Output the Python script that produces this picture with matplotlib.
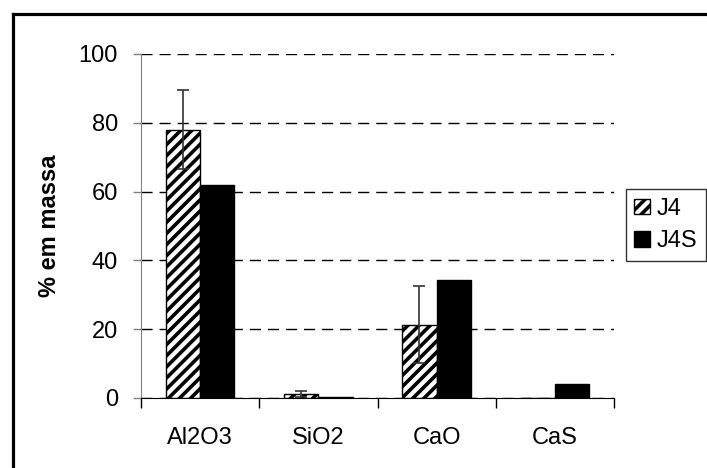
import matplotlib

matplotlib.use("Agg")
import matplotlib.pyplot as plt
import numpy as np
from matplotlib.lines import Line2D

categories = ["Al2O3", "SiO2", "CaO", "CaS"]
j4_values = [78.0, 1.2, 21.3, 0.0]
j4_errors = [11.4, 0.9, 11.2, 0.0]
j4s_values = [62.0, 0.3, 34.4, 4.2]
yticks = [0, 20, 40, 60, 80, 100]

plt.rcParams["font.family"] = ["Liberation Sans", "DejaVu Sans"]
plt.rcParams["hatch.linewidth"] = 2.6

fig = plt.figure(figsize=(7.07, 4.68), dpi=100)
ax = fig.add_axes([141 / 707, 1 - 398 / 468, 473 / 707, 344 / 468])

x = np.arange(len(categories))
w = 0.29
ax.bar(x - w / 2, j4_values, width=w, color="white", edgecolor="black",
       hatch="///", linewidth=1.0, label="J4", zorder=3)
ax.bar(x + w / 2, j4s_values, width=w, color="black", edgecolor="black",
       linewidth=1.0, label="J4S", zorder=3)
err_x = [xi - w / 2 for xi, e in zip(x, j4_errors) if e > 0]
err_y = [v for v, e in zip(j4_values, j4_errors) if e > 0]
err_e = [e for e in j4_errors if e > 0]
ax.errorbar(err_x, err_y, yerr=err_e, fmt="none", ecolor="#333333",
            elinewidth=1.2, capsize=4, capthick=1.2, zorder=4)

ax.set_xlim(-0.5, len(categories) - 0.5)
ax.set_ylim(0, 100)
ax.set_yticks(yticks)
ax.set_xticks(np.arange(len(categories) + 1) - 0.5, minor=True)
ax.set_xticks(x)
ax.set_xticklabels(categories)
ax.tick_params(axis="x", which="major", length=0, labelsize=17, pad=21)
ax.tick_params(axis="x", which="minor", length=7, direction="out", width=1.0)
ax.tick_params(axis="y", length=6, direction="out", width=1.0,
               labelsize=17, color="#808080", pad=10.5)
ax.yaxis.grid(True, linestyle=(0, (8, 5)), color="black", linewidth=1.0)
ax.set_axisbelow(True)

for side in ("top", "right"):
    ax.spines[side].set_visible(False)
ax.spines["left"].set_color("#808080")
ax.spines["bottom"].set_color("black")
ax.spines["bottom"].set_zorder(5)

ax.set_ylabel("% em massa", fontsize=17, fontweight="bold", labelpad=13)

leg = ax.legend(loc="center left", bbox_to_anchor=(626 / 707, 1 - 225 / 468),
                bbox_transform=fig.transFigure, fontsize=17, frameon=True,
                fancybox=False, edgecolor="black", handlelength=0.65,
                handleheight=0.65, handletextpad=0.3, borderpad=0.35,
                labelspacing=0.45, borderaxespad=0)
leg.get_frame().set_linewidth(1.0)

# outer frame: only the top and left edges are visible in the picture
frame_x = 12.5 / 707
frame_y = 1 - 13.5 / 468
fig.lines.append(Line2D([frame_x, 1.0], [frame_y, frame_y],
                        transform=fig.transFigure, color="black", linewidth=2.3,
                        solid_capstyle="projecting"))
fig.lines.append(Line2D([frame_x, frame_x], [0.0, frame_y],
                        transform=fig.transFigure, color="black", linewidth=2.3,
                        solid_capstyle="projecting"))

fig.savefig("out.png", dpi=100)
plt.close(fig)
